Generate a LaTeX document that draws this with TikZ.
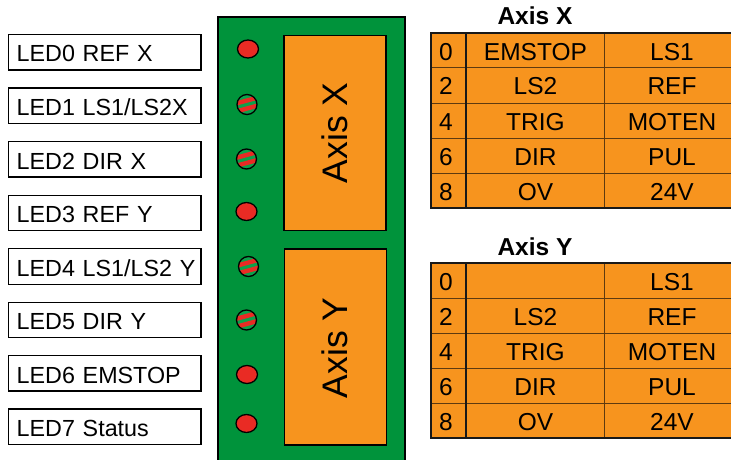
\documentclass[tikz,border=0pt]{standalone}
\usepackage{fontspec}
\setmainfont{Liberation Sans}
\usetikzlibrary{shapes.geometric}
\definecolor{boardgreen}{HTML}{00933B}
\definecolor{ledgreen}{HTML}{0BA24B}
\definecolor{partorange}{HTML}{F7941E}
\definecolor{ledred}{HTML}{E92B24}
\definecolor{gridbrown}{HTML}{5E3A10}
\tikzset{
  x=1pt,y=-1pt,
  ledlabel/.style={draw=black,line width=1.1pt,minimum width=192.5pt,minimum height=35.5pt,
    inner sep=0pt,text width=184.5pt,align=left,text height=19.5pt,text depth=0pt,font=\fontsize{23.3}{24}\selectfont,
    execute at begin node={\hspace*{4.2pt}}},
  ledon/.style={draw=black,line width=1.3pt,fill=ledred,ellipse,minimum width=21pt,minimum height=18pt,inner sep=0pt},
  ledmix/.style={draw=black,line width=1.3pt,fill=ledgreen,circle,minimum size=20pt,inner sep=0pt,
    path picture={
      \draw[ledred,line width=4.4pt] ([shift={(-14.7,0)}]path picture bounding box.center) -- ([shift={(13.3,-7.6)}]path picture bounding box.center);
      \draw[ledred,line width=4.4pt] ([shift={(-13.3,7.6)}]path picture bounding box.center) -- ([shift={(14.7,0)}]path picture bounding box.center);
    }},
  partbox/.style={draw=black,line width=1.3pt,fill=partorange,minimum width=102pt,inner sep=0pt},
  partname/.style={rotate=90,anchor=base,inner sep=0pt,font=\fontsize{35.5}{36}\selectfont},
  celltext/.style={anchor=base,inner sep=0pt,font=\fontsize{24.5}{25}\selectfont},
  tabletitle/.style={anchor=base,inner sep=0pt,font=\bfseries\fontsize{24.5}{25}\selectfont},
  thickline/.style={draw=black!90,line width=2pt},
  thinline/.style={draw=gridbrown,line width=1pt},
}
\begin{document}
\begin{tikzpicture}
\useasboundingbox (0,0) rectangle (731,460);
\clip (0,0) rectangle (731,460);
% board
\fill[boardgreen] (218,17) rectangle (405,461);
\draw[black,line width=2pt] (218,462) -- (218,17) -- (405,17) -- (405,462);
% labels
\node[ledlabel] (l0) at (104.75,52.25) {LED0 REF X};
\node[ledlabel] (l1) at (104.75,105.75) {LED1 LS1/LS2X};
\node[ledlabel] (l2) at (104.75,159.25) {LED2 DIR X};
\node[ledlabel] (l3) at (104.75,213) {LED3 REF Y};
\node[ledlabel] (l4) at (104.75,266.5) {LED4 LS1/LS2 Y};
\node[ledlabel] (l5) at (104.75,320) {LED5 DIR Y};
\node[ledlabel] (l6) at (104.75,373.25) {LED6 EMSTOP};
\node[ledlabel] (l7) at (104.75,426.75) {LED7 Status};
% LEDs
\node[ledon] (d0) at (248,49) {};
\node[ledmix] (d1) at (247,104.5) {};
\node[ledmix] (d2) at (246.5,159) {};
\node[ledon] (d3) at (246.5,211.5) {};
\node[ledmix] (d4) at (248.5,266.5) {};
\node[ledmix] (d5) at (246.5,320) {};
\node[ledon] (d6) at (247,374.5) {};
\node[ledon] (d7) at (246.5,423.5) {};
% parts
\node[partbox,minimum height=195.5pt] (px) at (335,133) {};
\node[partname] (nx) at (347,133) {Axis X};
\node[partbox,minimum height=196pt] (py) at (335.5,347) {};
\node[partname] (ny) at (347.3,347.8) {Axis Y};
% table X
\node[tabletitle] (tx) at (535,25) {Axis X};
\fill[partorange] (431,33) rectangle (731,208);
\foreach \r in {68,103,138,173} \draw[thinline] (431,\r) -- (731,\r);
\draw[thinline] (604,33) -- (604,208);
\draw[thickline] (466,33) -- (466,208);
\draw[thickline] (731,33) -- (431,33) -- (431,208) -- (731,208);
\node[celltext] (x00) at (446,60) {0};
\node[celltext] (x01) at (535.5,60) {EMSTOP};
\node[celltext] (x02) at (672,60) {LS1};
\node[celltext] (x10) at (446,95) {2};
\node[celltext] (x11) at (535.5,95) {LS2};
\node[celltext] (x12) at (672,95) {REF};
\node[celltext] (x20) at (446,130) {4};
\node[celltext] (x21) at (535.5,130) {TRIG};
\node[celltext] (x22) at (672,130) {MOTEN};
\node[celltext] (x30) at (446,165) {6};
\node[celltext] (x31) at (535.5,165) {DIR};
\node[celltext] (x32) at (672,165) {PUL};
\node[celltext] (x40) at (446,200) {8};
\node[celltext] (x41) at (535.5,200) {OV};
\node[celltext] (x42) at (672,200) {24V};
% table Y
\node[tabletitle] (ty) at (535,255) {Axis Y};
\fill[partorange] (431,263.3) rectangle (731,438);
\foreach \r in {298,333,368,403} \draw[thinline] (431,\r) -- (731,\r);
\draw[thinline] (604,263.3) -- (604,438);
\draw[thickline] (466,263.3) -- (466,438);
\draw[thickline] (731,263.3) -- (431,263.3) -- (431,438) -- (731,438);
\node[celltext] (y00) at (446,290) {0};
\node[celltext] (y02) at (672,290) {LS1};
\node[celltext] (y10) at (446,325) {2};
\node[celltext] (y11) at (535.5,325) {LS2};
\node[celltext] (y12) at (672,325) {REF};
\node[celltext] (y20) at (446,360) {4};
\node[celltext] (y21) at (535.5,360) {TRIG};
\node[celltext] (y22) at (672,360) {MOTEN};
\node[celltext] (y30) at (446,395) {6};
\node[celltext] (y31) at (535.5,395) {DIR};
\node[celltext] (y32) at (672,395) {PUL};
\node[celltext] (y40) at (446,430) {8};
\node[celltext] (y41) at (535.5,430) {OV};
\node[celltext] (y42) at (672,430) {24V};
\end{tikzpicture}
\end{document}
